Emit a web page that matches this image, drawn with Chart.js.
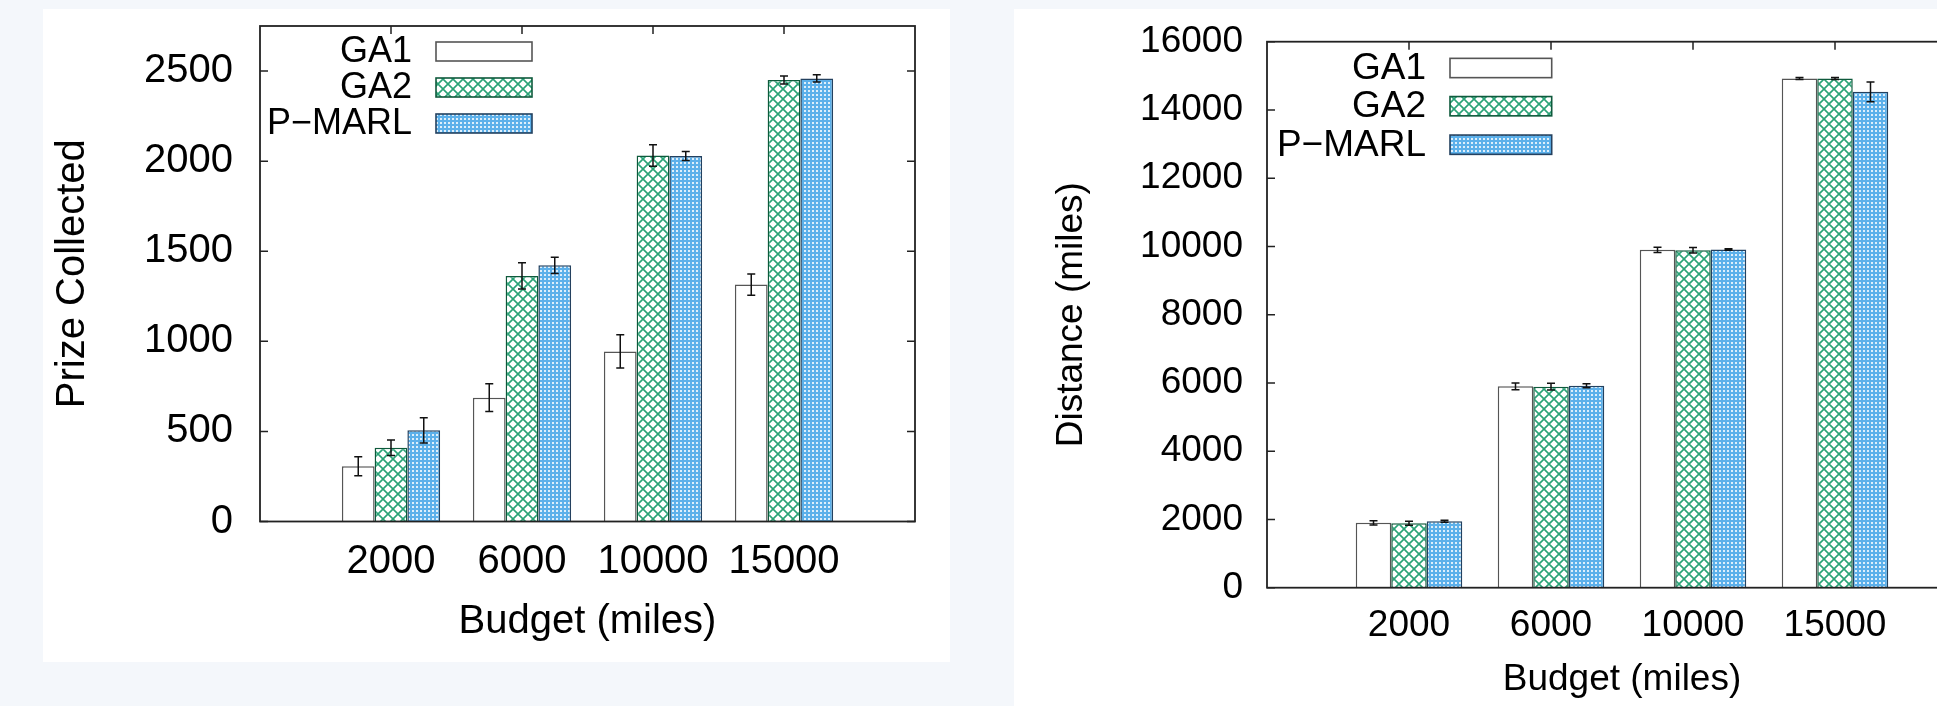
<!DOCTYPE html>
<html>
<head>
<meta charset="utf-8">
<script src="https://cdn.jsdelivr.net/npm/chart.js@4/dist/chart.umd.min.js"></script>
<style>
  html, body { margin: 0; padding: 0; }
  body { width: 1937px; height: 706px; overflow: hidden; background: #f4f7fb; position: relative; }
  .card { position: absolute; background: #fff; }
  #card1 { left: 43px; top: 9px; width: 907px; height: 653px; }
  #card2 { left: 1014px; top: 9px; width: 1000px; height: 720px; }
  canvas { position: absolute; left: 0; top: 0; }
</style>
</head>
<body>
<div class="card" id="card1"><canvas id="prize" width="907" height="653"></canvas></div>
<div class="card" id="card2"><canvas id="distance" width="1000" height="720"></canvas></div>
<script>
// budgets on the x axis
const budgets = ['2000', '6000', '10000', '15000'];
const seriesNames = ['GA1', 'GA2', 'P\u2212MARL'];

// prize collected (mean, +/- error)
const prizeTicks = [0, 500, 1000, 1500, 2000, 2500];
const prizeGA1 = [307, 687, 944, 1315];
const prizeGA1Err = [53, 77, 92, 59];
const prizeGA2 = [409, 1363, 2031, 2450];
const prizeGA2Err = [43, 73, 60, 22];
const prizeMARL = [506, 1422, 2028, 2459];
const prizeMARLErr = [70, 45, 25, 20];

// distance travelled (miles)
const distTicks = [0, 2000, 4000, 6000, 8000, 10000, 12000, 14000, 16000];
const distGA1 = [1900, 5900, 9900, 14920];
const distGA1Err = [60, 100, 80, 30];
const distGA2 = [1890, 5890, 9890, 14920];
const distGA2Err = [60, 100, 80, 30];
const distMARL = [1945, 5920, 9910, 14530];
const distMARLErr = [30, 60, 20, 290];

const FONT = '"Liberation Sans", Arial, Helvetica, sans-serif';

function crossHatch() {
    const c = document.createElement('canvas');
    c.width = 10; c.height = 10;
    const g = c.getContext('2d');
    g.fillStyle = '#fff';
    g.fillRect(0, 0, 10, 10);
    g.strokeStyle = '#2aa377';
    g.lineWidth = 1.6;
    g.beginPath();
    g.moveTo(-1, -1); g.lineTo(11, 11);
    g.moveTo(11, -1); g.lineTo(-1, 11);
    g.stroke();
    return g.createPattern(c, 'repeat');
}

function dotted() {
    const c = document.createElement('canvas');
    c.width = 4; c.height = 4;
    const g = c.getContext('2d');
    g.fillStyle = '#5cb0ea';
    g.fillRect(0, 0, 4, 4);
    g.fillStyle = 'rgba(255,255,255,0.8)';
    g.fillRect(1, 1, 2, 2);
    return g.createPattern(c, 'repeat');
}

// frame, inward ticks, error bars and the in-plot legend
const decorPlugin = {
    id: 'decor',
    beforeDatasetsDraw(chart) {
        const {ctx, chartArea: a, scales: {x, y}} = chart;
        const len = 8;
        ctx.save();
        ctx.strokeStyle = '#222';
        ctx.lineWidth = 1.5;
        ctx.beginPath();
        y.ticks.forEach(t => {
            const py = y.getPixelForValue(t.value);
            ctx.moveTo(a.left, py); ctx.lineTo(a.left + len, py);
            ctx.moveTo(a.right, py); ctx.lineTo(a.right - len, py);
        });
        x.ticks.forEach((t, i) => {
            if (!t.label) return;
            const px = x.getPixelForTick(i);
            ctx.moveTo(px, a.top); ctx.lineTo(px, a.top + len);
            ctx.moveTo(px, a.bottom); ctx.lineTo(px, a.bottom - len);
        });
        ctx.stroke();
        ctx.restore();
    },
    afterDatasetsDraw(chart, args, opts) {
        const {ctx, chartArea: a, scales: {y}} = chart;
        ctx.save();
        // error bars
        ctx.strokeStyle = '#111';
        ctx.lineWidth = 1.5;
        chart.data.datasets.forEach((ds, di) => {
            const meta = chart.getDatasetMeta(di);
            meta.data.forEach((bar, i) => {
                const v = ds.data[i];
                if (v == null) return;
                const e = ds.errors[i];
                const y1 = y.getPixelForValue(v - e);
                const y2 = y.getPixelForValue(v + e);
                ctx.beginPath();
                ctx.moveTo(bar.x, y1); ctx.lineTo(bar.x, y2);
                ctx.moveTo(bar.x - 4, y1); ctx.lineTo(bar.x + 4, y1);
                ctx.moveTo(bar.x - 4, y2); ctx.lineTo(bar.x + 4, y2);
                ctx.stroke();
            });
        });
        // frame
        ctx.strokeStyle = '#222';
        ctx.lineWidth = 1.8;
        ctx.strokeRect(a.left, a.top, a.right - a.left, a.bottom - a.top);
        // legend
        ctx.font = opts.fontSize + 'px ' + FONT;
        ctx.textAlign = 'right';
        ctx.textBaseline = 'middle';
        chart.data.datasets.forEach((ds, di) => {
            const cy = opts.rows[di];
            ctx.fillStyle = '#000';
            ctx.fillText(ds.label, opts.textRight, cy + 1);
            ctx.fillStyle = ds.backgroundColor;
            ctx.fillRect(opts.boxX, cy - opts.boxH / 2, opts.boxW, opts.boxH);
            ctx.strokeStyle = ds.borderColor;
            ctx.lineWidth = 1.6;
            ctx.strokeRect(opts.boxX, cy - opts.boxH / 2, opts.boxW, opts.boxH);
        });
        ctx.restore();
    }
};

function drawChart(id, cfg) {
    const labels = [''].concat(budgets, ['']);
    const pad = arr => [null].concat(arr, [null]);
    const errPad = arr => [0].concat(arr, [0]);
    const tickFont = {family: FONT, size: cfg.fontSize};
    const ctx = document.getElementById(id).getContext('2d');
    return new Chart(ctx, {
        type: 'bar',
        data: {
            labels: labels,
            datasets: [
                {
                    label: seriesNames[0],
                    data: pad(cfg.values[0]),
                    errors: errPad(cfg.errors[0]),
                    backgroundColor: '#ffffff',
                    borderColor: '#555555',
                    borderWidth: 1.5
                },
                {
                    label: seriesNames[1],
                    data: pad(cfg.values[1]),
                    errors: errPad(cfg.errors[1]),
                    backgroundColor: crossHatch(),
                    borderColor: '#0f5a3c',
                    borderWidth: 1.5
                },
                {
                    label: seriesNames[2],
                    data: pad(cfg.values[2]),
                    errors: errPad(cfg.errors[2]),
                    backgroundColor: dotted(),
                    borderColor: '#24415f',
                    borderWidth: 1.5
                }
            ]
        },
        options: {
            responsive: false,
            maintainAspectRatio: false,
            animation: false,
            events: [],
            layout: {padding: {top: cfg.padTop, right: cfg.padRight, left: 0, bottom: 0}},
            datasets: {bar: {categoryPercentage: 0.75, barPercentage: 1.0, borderSkipped: 'start'}},
            plugins: {
                legend: {display: false},
                tooltip: {enabled: false},
                decor: cfg.legend
            },
            scales: {
                x: {
                    type: 'category',
                    offset: false,
                    grid: {display: false, drawTicks: false},
                    border: {display: false},
                    ticks: {autoSkip: false, maxRotation: 0, padding: cfg.xTickPad, color: '#000', font: tickFont},
                    title: {display: true, text: 'Budget (miles)', color: '#000', font: tickFont,
                            padding: {top: 0, bottom: cfg.xTitlePad}},
                    afterFit: s => {
                        s.height = cfg.xAxisHeight;
                        s.paddingLeft = 0; s.paddingRight = 0;
                    }
                },
                y: {
                    min: 0,
                    max: cfg.yMax,
                    grid: {display: false, drawTicks: false},
                    border: {display: false},
                    afterBuildTicks: s => { s.ticks = cfg.yTicks.map(v => ({value: v})); },
                    ticks: {autoSkip: false, padding: cfg.yTickPad, color: '#000',
                            font: tickFont, callback: v => String(v)},
                    title: {display: true, text: cfg.yTitle, color: '#000', font: tickFont,
                            padding: {top: cfg.yTitlePad, bottom: 0}},
                    afterFit: s => {
                        s.width = cfg.yAxisWidth;
                        s.paddingTop = 0; s.paddingBottom = 0;
                    }
                }
            }
        },
        plugins: [decorPlugin]
    });
}

drawChart('prize', {
    values: [prizeGA1, prizeGA2, prizeMARL],
    errors: [prizeGA1Err, prizeGA2Err, prizeMARLErr],
    yTitle: 'Prize Collected',
    yMax: 2750, yTicks: prizeTicks,
    fontSize: 40,
    padTop: 17, padRight: 35,
    yAxisWidth: 217, yTickPad: 27, yTitlePad: 6,
    xAxisHeight: 140.5, xTickPad: 16, xTitlePad: 16,
    legend: {fontSize: 36, textRight: 369, boxX: 393, boxW: 96, boxH: 19, rows: [42.5, 78.5, 114.5]}
});

drawChart('distance', {
    values: [distGA1, distGA2, distMARL],
    errors: [distGA1Err, distGA2Err, distMARLErr],
    yTitle: 'Distance (miles)',
    yMax: 16000, yTicks: distTicks,
    fontSize: 37,
    padTop: 32.7, padRight: 37,
    yAxisWidth: 253, yTickPad: 24, yTitlePad: 35.5,
    xAxisHeight: 141.3, xTickPad: 16, xTitlePad: 26.8,
    legend: {fontSize: 37, textRight: 412, boxX: 436, boxW: 101.7, boxH: 19.3, rows: [59, 97.2, 135.7]}
});
</script>
</body>
</html>
